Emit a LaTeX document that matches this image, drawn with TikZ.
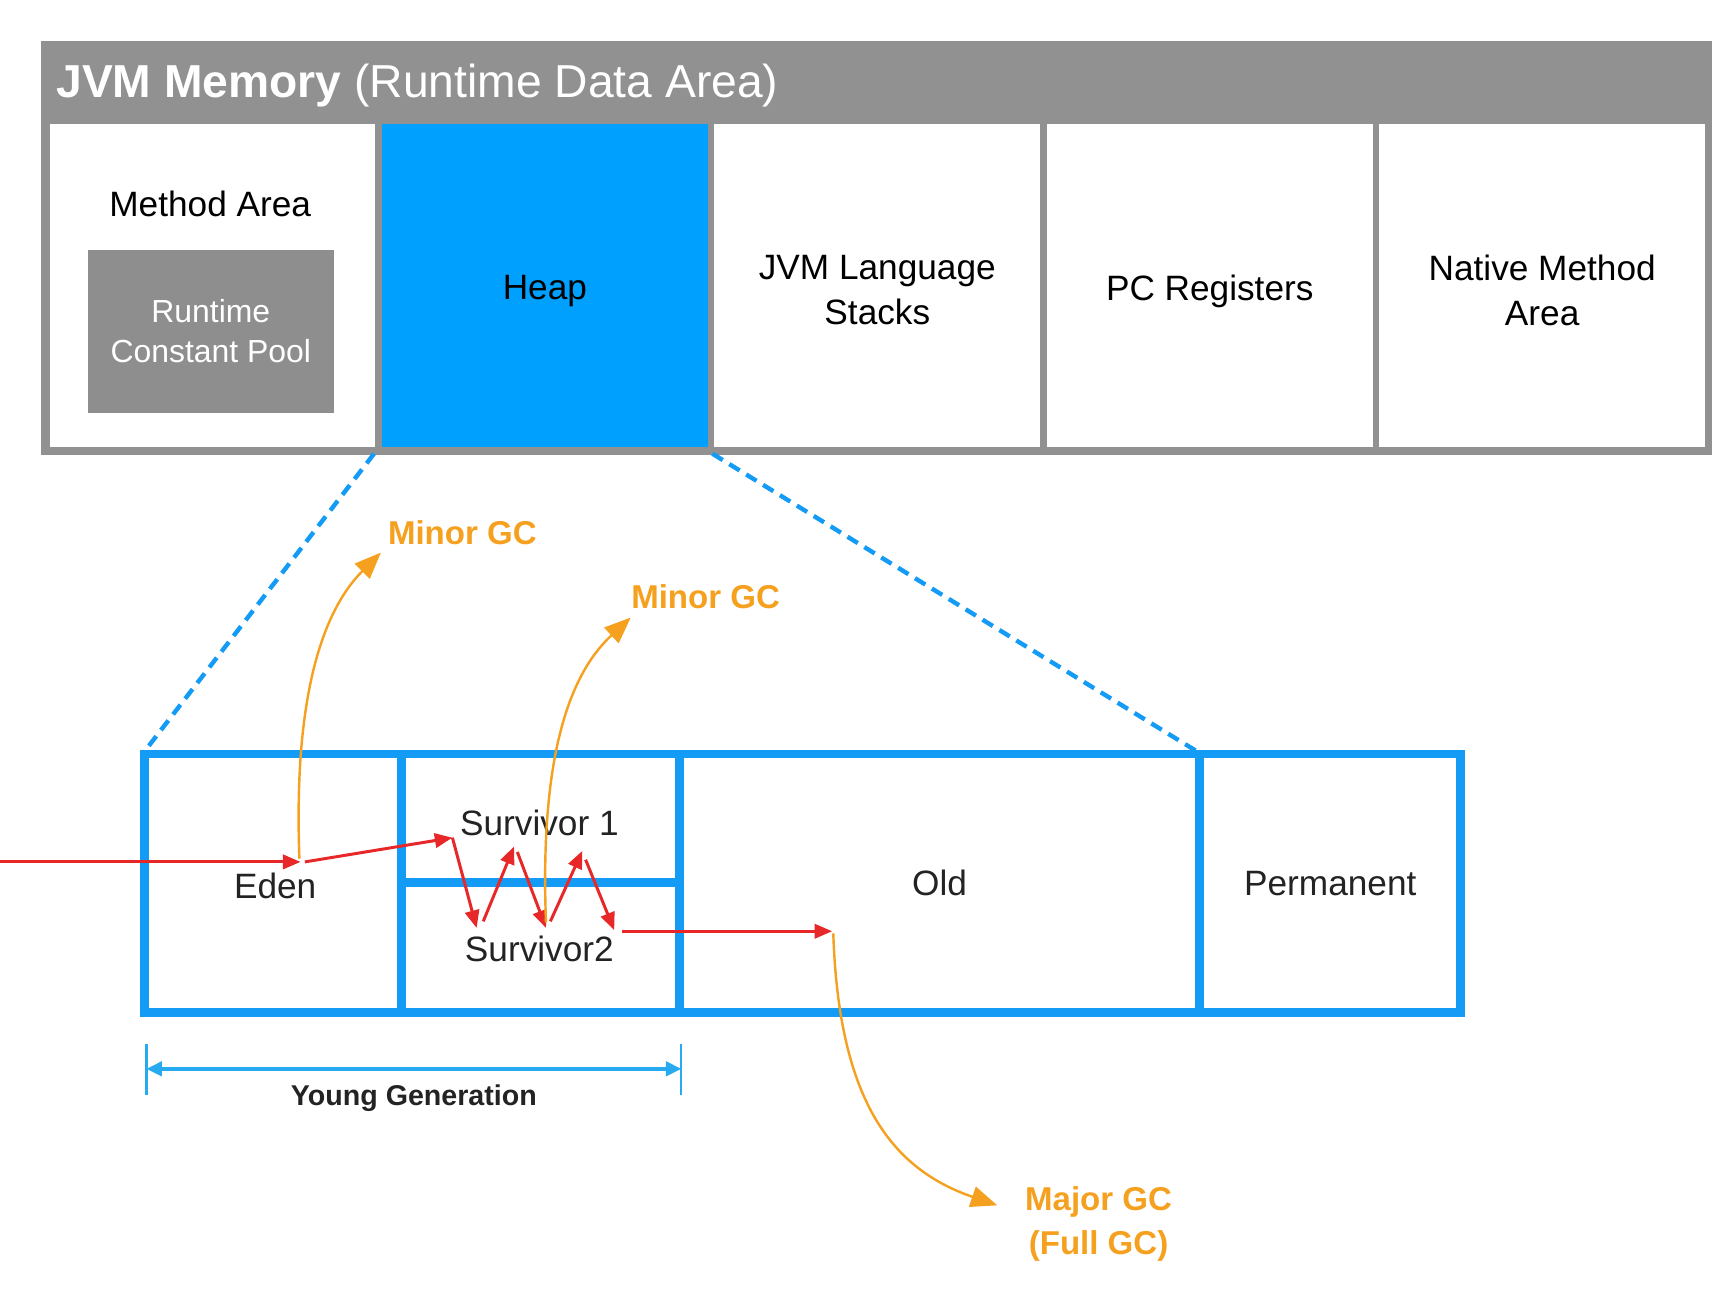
\documentclass[tikz,border=0pt]{standalone}
\usepackage{fontspec}
\setmainfont{Liberation Sans}
\usetikzlibrary{arrows.meta}
\definecolor{hdrgray}{RGB}{145,145,145}
\definecolor{poolgray}{RGB}{142,142,142}
\definecolor{heapblue}{RGB}{0,160,255}
\definecolor{boxblue}{RGB}{20,155,245}
\definecolor{dimblue}{RGB}{40,170,240}
\definecolor{gcred}{RGB}{232,40,40}
\definecolor{gcorange}{RGB}{245,160,30}
\definecolor{txtdark}{RGB}{35,35,35}
\begin{document}
\begin{tikzpicture}[x=1pt,y=-1pt,
  cell/.style={rectangle,fill=white,inner sep=0pt,minimum width=296pt,minimum height=293pt},
  celltext/.style={font=\fontsize{32}{41}\selectfont,align=center,text=black},
  region/.style={rectangle,draw=boxblue,line width=8pt,inner sep=0pt,
     font=\fontsize{32}{40}\selectfont,text=txtdark},
  redarrow/.style={draw=gcred,line width=2.7pt,-{Triangle[length=16pt,width=13pt]}},
  orangearrow/.style={draw=gcorange,line width=2.2pt,-{Triangle[length=24pt,width=19pt]}},
  gclabel/.style={font=\bfseries\fontsize{30}{40}\selectfont,text=gcorange,align=center},
  zoomline/.style={draw=boxblue,line width=4pt,dash pattern=on 11pt off 7pt}
]
\useasboundingbox (0,0) rectangle (1568,1174);
% header frame
\node[rectangle,fill=hdrgray,inner sep=0pt,minimum width=1518pt,minimum height=376pt] (frame) at (796,225) {};
\node[anchor=west,text=white,font=\fontsize{42}{50}\selectfont,inner sep=0pt] (title) at (51,78)
  {{\bfseries JVM Memory} (Runtime Data Area)};
% cells
\node[cell] (method) at (193,259.5) {};
\node[cell,fill=heapblue] (heap) at (495,259.5) {};
\node[cell] (stacks) at (797,259.5) {};
\node[cell] (pcreg) at (1099,259.5) {};
\node[cell] (native) at (1401,259.5) {};
\node[celltext] (methodlbl) at (191,185) {Method Area};
\node[rectangle,fill=poolgray,inner sep=0pt,minimum width=223pt,minimum height=148pt,
      text=white,font=\fontsize{29}{36}\selectfont,align=center] (pool) at (191.5,301)
      {Runtime\\Constant Pool};
\node[celltext,yshift=-5pt] at (heap) {Heap};
\node[celltext,yshift=-4pt] at (stacks) {JVM Language\\Stacks};
\node[celltext,yshift=-5pt] at (pcreg) {PC Registers};
\node[celltext,yshift=-4pt] at (native) {Native Method\\Area};
% heap regions
\node[region,minimum width=234pt,minimum height=235pt] (eden) at (248,802.5) {};
\node[region,minimum width=252pt,minimum height=117pt] (surv1) at (491,743.5) {};
\node[region,minimum width=252pt,minimum height=118pt] (surv2) at (491,861) {};
\node[region,minimum width=473pt,minimum height=235pt] (old) at (853.5,802.5) {Old};
\node[region,minimum width=237pt,minimum height=235pt] (perm) at (1208.5,802.5) {Permanent};
\node[font=\fontsize{32}{40}\selectfont,text=txtdark] (edenlbl) at (250,805) {Eden};
\node[font=\fontsize{32}{40}\selectfont,text=txtdark] (s1lbl) at (490,748) {Survivor 1};
\node[font=\fontsize{32}{40}\selectfont,text=txtdark] (s2lbl) at (490,862) {Survivor2};
% zoom lines
\draw[zoomline] ([xshift=-7pt,yshift=-6pt]heap.south west) -- ([xshift=4pt,yshift=-2pt]eden.north west);
\draw[zoomline] ([xshift=4pt,yshift=-6pt]heap.south east) -- ([xshift=-6pt,yshift=-2pt]old.north east);
% young generation dimension
\coordinate (ygl) at (133,971);
\coordinate (ygr) at (619,971);
\draw[dimblue,line width=2pt] (133,948) -- (133,995) (619,948) -- (619,995);
\draw[dimblue,line width=3pt,{Triangle[length=14pt,width=13pt]}-{Triangle[length=14pt,width=13pt]}] (ygl) -- (ygr);
\node[font=\bfseries\fontsize{26}{32}\selectfont,text=txtdark] (yglbl) at (376,998) {Young Generation};
% red flow
\coordinate (in) at (0,783);
\coordinate (e1) at (273,783);
\coordinate (e2) at (277,783);
\coordinate (z0) at (411,761);
\coordinate (z1) at (433,843);
\coordinate (z1b) at (439,837);
\coordinate (z2) at (467,769);
\coordinate (z2b) at (470,774);
\coordinate (z3) at (496,843);
\coordinate (z3b) at (500,837);
\coordinate (z4) at (529,773);
\coordinate (z4b) at (532,781);
\coordinate (z5) at (558,845);
\coordinate (z5b) at (565,846);
\coordinate (o1) at (756,846);
\draw[redarrow] (in) -- (e1);
\draw[redarrow] (e2) -- (z0);
\draw[redarrow] (z0) -- (z1);
\draw[redarrow] (z1b) -- (z2);
\draw[redarrow] (z2b) -- (z3);
\draw[redarrow] (z3b) -- (z4);
\draw[redarrow] (z4b) -- (z5);
\draw[redarrow] (z5b) -- (o1);
% orange GC arrows
\node[gclabel] (minor1) at (420,484) {Minor GC};
\node[gclabel] (minor2) at (641,542) {Minor GC};
\node[gclabel] (major) at (998,1112) {Major GC\\(Full GC)};
\coordinate (m1end) at (346,502);
\coordinate (m2end) at (573,561);
\coordinate (majend) at (906,1095);
\draw[orangearrow] (272,780) .. controls (266,620) and (298,550) .. (m1end);
\draw[orangearrow] (496,838) .. controls (490,680) and (520,610) .. (m2end);
\draw[orangearrow] (757,848) .. controls (762,1000) and (810,1062) .. (majend);
\end{tikzpicture}
\end{document}
